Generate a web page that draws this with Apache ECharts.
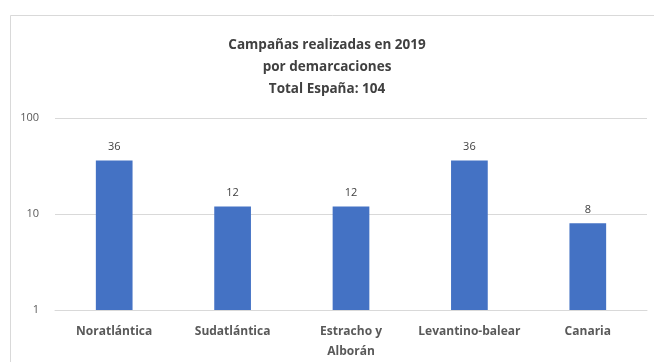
<!DOCTYPE html>
<html><head><meta charset="utf-8">
<script src="https://cdn.jsdelivr.net/npm/echarts@6/dist/echarts.min.js"></script>
<style>html,body{margin:0;padding:0;background:#fff}#c{width:654px;height:362px}</style>
</head><body><div id="c"></div>
<script>
const categories = ['Noratlántica', 'Sudatlántica', 'Estracho y\nAlborán', 'Levantino-balear', 'Canaria'];
const values = [36, 12, 12, 36, 8];
const titleLines = ['Campañas realizadas en 2019', 'por demarcaciones', 'Total España: 104'];

const chart = echarts.init(document.getElementById('c'));
chart.setOption({
  animation: false,
  backgroundColor: '#fff',
  graphic: [{
    type: 'rect', left: 8, top: 13, shape: {width: 660, height: 360},
    style: {fill: 'none', stroke: '#d9d9d9', lineWidth: 1}, silent: true, z: -1
  }],
  title: {
    text: titleLines.join('\n'),
    left: 'center', top: 29,
    textStyle: {fontFamily: 'Open Sans', fontSize: 13.5, fontWeight: 'bold', color: '#404040', lineHeight: 22}
  },
  grid: {left: 55, right: 7, top: 118, bottom: 52, containLabel: false},
  xAxis: {
    type: 'category', data: categories,
    axisLine: {lineStyle: {color: '#d9d9d9'}},
    axisTick: {show: false},
    axisLabel: {fontFamily: 'Open Sans', fontSize: 12, fontWeight: 'bold', color: '#595959', margin: 12, interval: 0, lineHeight: 20}
  },
  yAxis: {
    type: 'log', logBase: 10, min: 1, max: 100,
    axisLine: {show: false}, axisTick: {show: false},
    splitLine: {lineStyle: {color: '#d9d9d9'}},
    axisLabel: {fontFamily: 'Open Sans', fontSize: 11, color: '#595959', margin: 16}
  },
  series: [{
    type: 'bar', data: values, barWidth: '31%',
    itemStyle: {color: '#4472c4'},
    label: {show: true, position: 'top', distance: 8, fontFamily: 'Open Sans', fontSize: 11, color: '#404040'}
  }]
});
</script></body></html>
